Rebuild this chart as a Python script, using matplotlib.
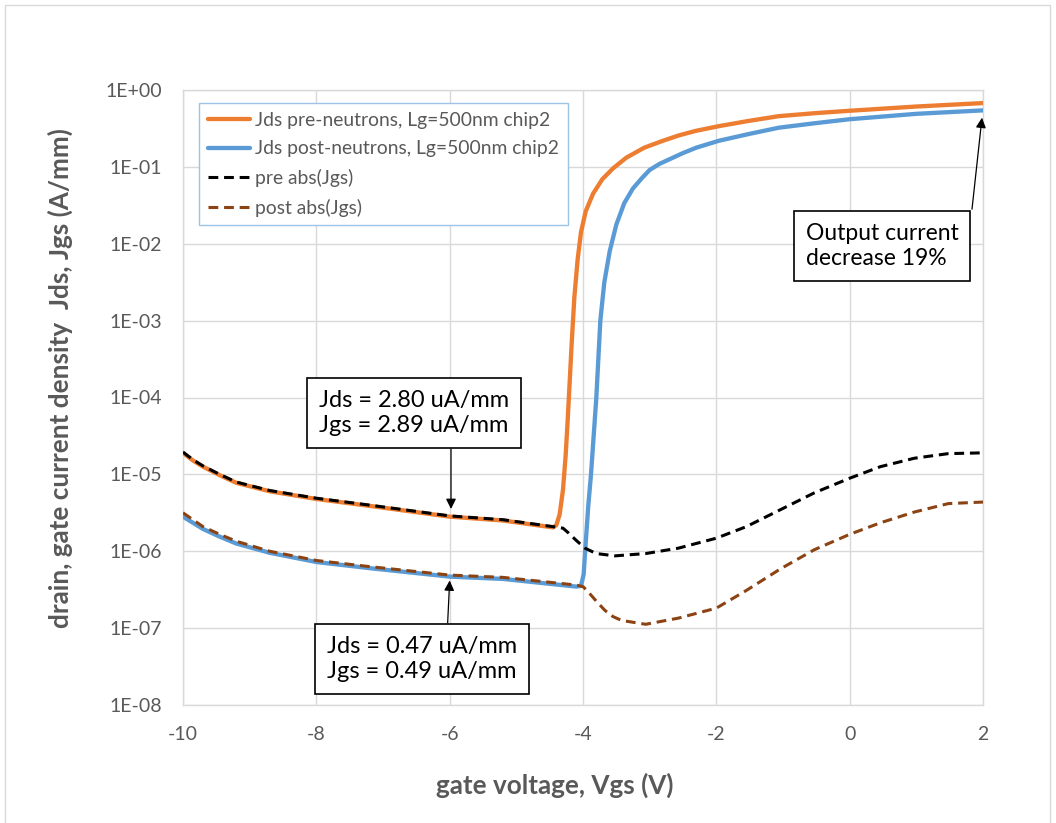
import numpy as np
import matplotlib
matplotlib.use("Agg")
import matplotlib.pyplot as plt
from matplotlib.patches import Rectangle

plt.rcParams['font.family'] = ['Lato', 'DejaVu Sans']

# gate voltage (V) and log10 of current density (A/mm)
vgs_pre = [-10, -9.85, -9.7, -9.45, -9.2, -8.7, -8.0, -7.2, -6.0, -5.2, -4.45, -4.40,
           -4.35, -4.30, -4.26, -4.23, -4.20, -4.17, -4.13, -4.08, -4.03, -3.96, -3.85,
           -3.71, -3.55, -3.35, -3.08, -2.8, -2.56, -2.3, -1.96, -1.5, -1.06, -0.5, 0, 1, 2]
jds_pre_log = [-4.72, -4.82, -4.90, -5.01, -5.11, -5.22, -5.32, -5.41, -5.55, -5.60, -5.69, -5.66,
               -5.52, -5.20, -4.75, -4.30, -3.80, -3.30, -2.70, -2.20, -1.85, -1.58, -1.35,
               -1.16, -1.02, -0.88, -0.75, -0.66, -0.59, -0.53, -0.47, -0.40, -0.34, -0.30,
               -0.27, -0.215, -0.17]

vgs_post = [-10, -9.85, -9.7, -9.45, -9.2, -8.7, -8.0, -7.2, -6.0, -5.2, -4.1, -4.03,
            -3.99, -3.96, -3.92, -3.88, -3.84, -3.80, -3.77, -3.74, -3.68, -3.60, -3.50,
            -3.38, -3.25, -3.12, -3.0, -2.85, -2.7, -2.5, -2.3, -1.96, -1.5, -1.06, -0.5,
            0, 1, 2]
jds_post_log = [-5.55, -5.63, -5.71, -5.81, -5.90, -6.02, -6.14, -6.22, -6.33, -6.36, -6.46, -6.45,
                -6.30, -5.90, -5.40, -5.00, -4.50, -4.00, -3.50, -3.00, -2.50, -2.10, -1.75,
                -1.47, -1.28, -1.15, -1.04, -0.96, -0.90, -0.82, -0.75, -0.66, -0.57, -0.49,
                -0.43, -0.38, -0.31, -0.265]

vgs_jgs_pre = [-10, -9.85, -9.7, -9.45, -9.2, -8.7, -8.0, -7.2, -6.0, -5.2, -4.45, -4.3,
               -4.22, -4.1, -3.97, -3.8, -3.52, -3.06, -2.57, -2.0, -1.55, -1.04, -0.53,
               0, 0.46, 0.97, 1.48, 2.0]
jgs_pre_log = [-4.71, -4.81, -4.89, -5.00, -5.10, -5.21, -5.31, -5.40, -5.54, -5.59, -5.68, -5.70,
               -5.76, -5.86, -5.96, -6.03, -6.06, -6.03, -5.96, -5.83, -5.68, -5.46, -5.24,
               -5.05, -4.90, -4.79, -4.73, -4.72]

vgs_jgs_post = [-10, -9.85, -9.7, -9.45, -9.2, -8.7, -8.0, -7.2, -6.0, -5.2, -4.1, -4.0,
                -3.93, -3.8, -3.67, -3.55, -3.42, -3.06, -2.57, -2.0, -1.55, -1.04, -0.53,
                0, 0.46, 0.97, 1.48, 2.0]
jgs_post_log = [-5.50, -5.59, -5.68, -5.78, -5.87, -6.00, -6.12, -6.20, -6.31, -6.34, -6.44, -6.46,
                -6.52, -6.65, -6.77, -6.85, -6.90, -6.95, -6.87, -6.74, -6.51, -6.23, -5.98,
                -5.78, -5.63, -5.49, -5.38, -5.36]

labels = ["Jds pre-neutrons, Lg=500nm chip2", "Jds post-neutrons, Lg=500nm chip2",
          "pre abs(Jgs)", "post abs(Jgs)"]
x_ticks = [-10, -8, -6, -4, -2, 0, 2]
y_exps = [0, -1, -2, -3, -4, -5, -6, -7, -8]

GRAY = '#595959'
GRID = '#D9D9D9'


def plotData():
    fig = plt.figure(figsize=(10.56, 8.23), dpi=100)
    W, H = 1056.0, 823.0
    ax = fig.add_axes([183 / W, 1 - 705 / H, 800 / W, 615 / H])

    ax.plot(vgs_pre, 10.0 ** np.array(jds_pre_log), color='#ED7D31', lw=3.1,
            label=labels[0], solid_capstyle='round', solid_joinstyle='round', zorder=3)
    ax.plot(vgs_post, 10.0 ** np.array(jds_post_log), color='#5B9BD5', lw=3.1,
            label=labels[1], solid_capstyle='round', solid_joinstyle='round', zorder=3)
    ax.plot(vgs_jgs_pre, 10.0 ** np.array(jgs_pre_log), color='black', lw=2.2,
            dashes=(3.2, 1.9), label=labels[2], zorder=4)
    ax.plot(vgs_jgs_post, 10.0 ** np.array(jgs_post_log), color='#8C4314', lw=2.2,
            dashes=(3.2, 1.9), label=labels[3], zorder=4)

    ax.set_yscale('log')
    ax.set_xlim(-10, 2)
    ax.set_ylim(1e-8, 1)
    ax.set_xticks(x_ticks)
    ax.set_xticklabels([str(t) for t in x_ticks])
    ax.set_yticks([10.0 ** e for e in y_exps])
    ax.set_yticklabels(["1E+00" if e == 0 else "1E-%02d" % (-e) for e in y_exps])
    ax.minorticks_off()
    ax.tick_params(length=0, labelsize=14, colors=GRAY)
    ax.tick_params(axis='y', pad=15)
    ax.tick_params(axis='x', pad=15)
    ax.grid(True, color=GRID, lw=1)
    ax.set_axisbelow(True)
    for s in ax.spines.values():
        s.set_color(GRID)
        s.set_linewidth(1)

    leg = ax.legend(loc='upper left', bbox_to_anchor=(199 / W, 1 - 103 / H),
                    bbox_transform=fig.transFigure, fontsize=13.9, fancybox=False,
                    edgecolor='#9DC3E6', framealpha=1, borderaxespad=0,
                    handlelength=2.2, handletextpad=0.25, labelspacing=0.6,
                    borderpad=0.45)
    leg.get_frame().set_linewidth(1)
    for t in leg.get_texts():
        t.set_color(GRAY)

    # annotation boxes
    box = dict(boxstyle='square,pad=0.5', fc='white', ec='black', lw=1.2)
    ax.text(-6.54, 10 ** -4.20, "Jds = 2.80 uA/mm\nJgs = 2.89 uA/mm", fontsize=17,
            ha='center', va='center', bbox=box, linespacing=1.25, zorder=6)
    ax.text(-6.415, 10 ** -7.405, "Jds = 0.47 uA/mm\nJgs = 0.49 uA/mm", fontsize=17,
            ha='center', va='center', bbox=box, linespacing=1.25, zorder=6)
    ax.text(0.485, 10 ** -2.03, "Output current\ndecrease 19%", fontsize=16.5,
            ha='center', va='center', bbox=box, linespacing=1.25, zorder=6,
            multialignment='left')

    arrow = dict(arrowstyle='-|>', color='black', lw=0.9, mutation_scale=15,
                 shrinkA=0, shrinkB=0)
    ax.annotate('', xy=(-5.98, 10 ** -5.45), xytext=(-5.98, 10 ** -4.67), arrowprops=arrow, zorder=5)
    ax.annotate('', xy=(-6.0, 10 ** -6.38), xytext=(-6.03, 10 ** -6.93), arrowprops=arrow, zorder=5)
    ax.annotate('', xy=(1.985, 10 ** -0.36), xytext=(1.835, 10 ** -1.55), arrowprops=arrow, zorder=5)

    fig.text(555 / W, 1 - 785 / H, "gate voltage, Vgs (V)", fontsize=18.8, fontweight='bold',
             color=GRAY, ha='center', va='center')
    fig.text(60 / W, 1 - 378 / H, "drain, gate current density  Jds, Jgs (A/mm)", fontsize=18.8,
             fontweight='bold', color=GRAY, ha='center', va='center', rotation=90)

    # chart area border
    fig.patches.append(Rectangle((5 / W, -0.01), 1045 / W, 1 - 5 / H + 0.01,
                                 transform=fig.transFigure, fill=False, ec=GRID, lw=1))

    fig.savefig('out.png', dpi=100)


def main():
    plotData()


if __name__ == "__main__":
    main()
